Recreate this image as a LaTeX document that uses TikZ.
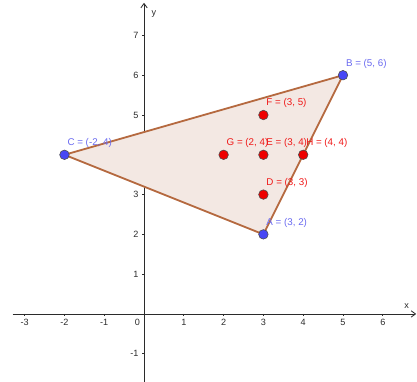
\documentclass[tikz,border=0pt]{standalone}
\usepackage{fontspec}
\setmainfont{Liberation Sans}
\usepackage{tikz}
\usetikzlibrary{positioning,arrows.meta,calc}
\definecolor{axisgray}{HTML}{2B2B2B}
\definecolor{edge}{HTML}{B5693F}
\definecolor{trifill}{HTML}{F3E8E3}
\definecolor{bluept}{HTML}{4747F5}
\definecolor{bluelbl}{HTML}{6A6AF0}
\definecolor{redpt}{HTML}{EE0000}
\definecolor{redlbl}{HTML}{F01818}
\tikzset{
  axis/.style={draw=axisgray,line width=0.6pt,-{Straight Barb[length=1.1mm,width=1.6mm]}},
  tick/.style={draw=axisgray,line width=0.5pt},
  ticklbl/.style={font=\fontsize{6.5}{7}\selectfont,text=axisgray,inner sep=1pt},
  tri/.style={draw=edge,fill=trifill,line width=1.3pt,line join=round},
  bpt/.style={circle,draw=black!70,fill=bluept,line width=0.4pt,minimum size=0.24cm,inner sep=0pt},
  rpt/.style={circle,draw=black!70,fill=redpt,line width=0.4pt,minimum size=0.24cm,inner sep=0pt},
  blbl/.style={anchor=south west,inner sep=0pt,text=bluelbl,font=\fontsize{7}{8}\selectfont},
  rlbl/.style={anchor=south west,inner sep=0pt,text=redlbl,font=\fontsize{7}{8}\selectfont}
}
\begin{document}
\begin{tikzpicture}[x=1cm,y=1cm]
  \useasboundingbox (-3.62,-1.71) rectangle (6.86,7.89);
  % axes
  \draw[axis] (-3.3,0) -- (6.84,0);
  \draw[axis] (0,-1.71) -- (0,7.82);
  \node[ticklbl,anchor=south] (xl) at (6.6,0.1) {x};
  \node[ticklbl,anchor=south west] (yl) at (0.15,7.4) {y};
  \foreach \x in {-3,-2,-1,1,2,...,6}{\draw[tick] (\x,0) -- (\x,-0.06); \node[ticklbl,anchor=north] at (\x,-0.1) {\x};}
  \foreach \y in {-1,1,2,...,7}{\draw[tick] (0,\y) -- (-0.06,\y); \node[ticklbl,anchor=east] at (-0.1,\y) {\y};}
  \node[ticklbl,anchor=north east] (o) at (-0.06,-0.1) {0};
  % triangle
  \coordinate (a) at (3,2);
  \coordinate (b) at (5,6);
  \coordinate (c) at (-2,4);
  \filldraw[tri] (a) -- (b) -- (c) -- cycle;
  % points
  \node[bpt] (A) at (a) {};
  \node[bpt] (B) at (b) {};
  \node[bpt] (C) at (c) {};
  \node[rpt] (D) at (3,3) {};
  \node[rpt] (E) at (3,4) {};
  \node[rpt] (F) at (3,5) {};
  \node[rpt] (G) at (2,4) {};
  \node[rpt] (H) at (4,4) {};
  \node[blbl] (Al) at ($(A)+(0.07,0.17)$) {A = (3, 2)};
  \node[blbl] (Bl) at ($(B)+(0.07,0.17)$) {B = (5, 6)};
  \node[blbl] (Cl) at ($(C)+(0.07,0.17)$) {C = (-2, 4)};
  \node[rlbl] (Dl) at ($(D)+(0.07,0.17)$) {D = (3, 3)};
  \node[rlbl] (El) at ($(E)+(0.07,0.17)$) {E = (3, 4)};
  \node[rlbl] (Fl) at ($(F)+(0.07,0.17)$) {F = (3, 5)};
  \node[rlbl] (Gl) at ($(G)+(0.07,0.17)$) {G = (2, 4)};
  \node[rlbl] (Hl) at ($(H)+(0.07,0.17)$) {H = (4, 4)};
\end{tikzpicture}
\end{document}
